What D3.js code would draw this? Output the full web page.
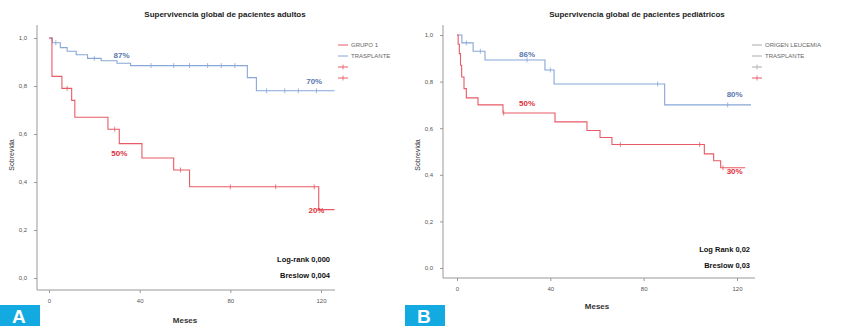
<!DOCTYPE html>
<html>
<head>
<meta charset="utf-8">
<script src="https://cdn.jsdelivr.net/npm/d3@7"></script>
<style>
  body { margin: 0; background: #fff; }
  svg { display: block; font-family: "Liberation Sans", Arial, sans-serif; }
</style>
</head>
<body>
<svg id="km" width="842" height="326"></svg>
<script>
// ---- data ----
const xTicks = [0, 40, 80, 120];
const yTicks = [0, 0.2, 0.4, 0.6, 0.8, 1.0];

// A: adultos
const adultBlueMonths = [0, 1.5, 5, 8, 12, 17, 23, 30, 36, 87.5, 91.5, 126];
const adultBlueSurv   = [1, 0.98, 0.96, 0.945, 0.93, 0.915, 0.905, 0.895, 0.885, 0.835, 0.78, 0.78];
const adultBlueCensor = [3, 20, 45, 55, 62, 70, 76, 82, 96, 104, 110, 118];
const adultRedMonths  = [0, 1.3, 5.7, 10, 11.4, 26, 31, 41, 55, 62, 119, 126];
const adultRedSurv    = [1, 0.84, 0.79, 0.74, 0.67, 0.62, 0.56, 0.50, 0.45, 0.38, 0.285, 0.285];
const adultRedCensor  = [8, 29, 58, 80, 100, 117];

// B: pediatricos
const pedBlueMonths = [0, 2.1, 6.9, 12, 37.7, 41.6, 89, 126];
const pedBlueSurv   = [1, 0.966, 0.93, 0.893, 0.85, 0.79, 0.70, 0.70];
const pedBlueCensor = [4, 10, 30, 40, 86, 116];
const pedRedMonths  = [0, 0.5, 1, 1.5, 2, 3, 4, 9, 19.7, 42, 55.7, 61.3, 66.4, 106, 110, 113, 123.5];
const pedRedSurv    = [1, 0.96, 0.92, 0.87, 0.82, 0.77, 0.73, 0.70, 0.665, 0.627, 0.59, 0.56, 0.53, 0.49, 0.46, 0.43, 0.43];
const pedRedCensor  = [20, 70, 104, 114];

const blue = "#88a6d8";
const red = "#e85a66";

const svg = d3.select("#km");

function drawPanel(p) {
  const g = svg.append("g");
  const x = d3.scaleLinear().domain([0, 120]).range(p.xRange);
  const y = d3.scaleLinear().domain([0, 1]).range(p.yRange);

  // title
  g.append("text")
    .attr("x", p.titleX).attr("y", 17)
    .attr("text-anchor", "middle")
    .style("font-size", "8px").style("font-weight", "bold").style("fill", "#222")
    .text(p.title);

  // axes lines
  g.append("line")
    .attr("x1", p.axisX).attr("x2", p.axisX)
    .attr("y1", 25).attr("y2", p.axisY)
    .attr("stroke", "#999").attr("stroke-width", 1);
  g.append("line")
    .attr("x1", p.axisX).attr("x2", p.axisEnd)
    .attr("y1", p.axisY).attr("y2", p.axisY)
    .attr("stroke", "#999").attr("stroke-width", 1);

  // y ticks
  const ya = g.append("g").attr("transform", `translate(${p.axisX},0)`)
    .call(d3.axisLeft(y).tickValues(yTicks).tickSize(3)
      .tickFormat(d => d3.format(".1f")(d).replace(".", ",")));
  ya.select(".domain").remove();
  ya.selectAll("line").attr("stroke", "#999");
  ya.selectAll("text").style("font-size", "6px").style("fill", "#555")
    .style("font-family", "Liberation Sans, Arial, sans-serif").attr("dx", "-4");

  // x ticks
  const xa = g.append("g").attr("transform", `translate(0,${p.axisY})`)
    .call(d3.axisBottom(x).tickValues(xTicks).tickSize(3));
  xa.select(".domain").remove();
  xa.selectAll("line").attr("stroke", "#999");
  xa.selectAll("text").style("font-size", "6px").style("fill", "#555")
    .style("font-family", "Liberation Sans, Arial, sans-serif").attr("dy", "1.2em");

  // axis titles
  g.append("text")
    .attr("x", p.xLabelX).attr("y", p.xLabelY)
    .attr("text-anchor", "middle")
    .style("font-size", "8px").style("font-weight", "bold").style("fill", "#333")
    .text("Meses");
  g.append("text")
    .attr("transform", `translate(${p.yLabelX},155) rotate(-90)`)
    .attr("text-anchor", "middle")
    .style("font-size", "7px").style("fill", "#333")
    .text("Sobrevida");

  // curves
  const line = d3.line().x(d => x(d[0])).y(d => y(d[1])).curve(d3.curveStepAfter);
  p.series.forEach(s => {
    const pts = d3.zip(s.months, s.surv);
    g.append("path").datum(pts)
      .attr("d", line)
      .attr("fill", "none").attr("stroke", s.color).attr("stroke-width", 1.1);

    // censor ticks
    const step = d3.scaleThreshold().domain(s.months.slice(1)).range(s.surv);
    g.selectAll(null).data(s.censor).join("line")
      .attr("x1", d => x(d)).attr("x2", d => x(d))
      .attr("y1", d => y(step(d)) - 2.5).attr("y2", d => y(step(d)) + 2.5)
      .attr("stroke", s.color).attr("stroke-width", 0.8);

    // percent labels
    s.labels.forEach(l => {
      g.append("text")
        .attr("x", x(l.m)).attr("y", y(l.v))
        .attr("text-anchor", "middle")
        .style("font-size", "8px").style("font-weight", "bold")
        .style("fill", s.color === red ? "#e0303c" : "#5a78b0")
        .text(l.t);
    });
  });

  // legend
  p.legend.forEach((d, i) => {
    const ly = 45 + i * 11;
    g.append("line")
      .attr("x1", p.legendX).attr("x2", p.legendX + 10)
      .attr("y1", ly).attr("y2", ly)
      .attr("stroke", d.color).attr("stroke-width", 1);
    if (d.censor) {
      g.append("line")
        .attr("x1", p.legendX + 5).attr("x2", p.legendX + 5)
        .attr("y1", ly - 2.5).attr("y2", ly + 2.5)
        .attr("stroke", d.color).attr("stroke-width", 0.8);
    }
    if (d.text) {
      g.append("text")
        .attr("x", p.legendX + 13).attr("y", ly + 2)
        .style("font-size", "6px").style("fill", "#666")
        .text(d.text);
    }
  });

  // stats
  p.stats.forEach((t, i) => {
    g.append("text")
      .attr("x", p.statsX).attr("y", p.statsY + i * 16)
      .attr("text-anchor", "end")
      .style("font-size", "7.5px").style("font-weight", "bold").style("fill", "#111")
      .text(t);
  });

  // panel letter
  g.append("rect")
    .attr("x", p.boxX).attr("y", 305).attr("width", 40).attr("height", 21)
    .attr("fill", "#13a9e1");
  g.append("text")
    .attr("x", p.boxX + 12).attr("y", 323)
    .style("font-size", "19px").style("font-weight", "bold").style("fill", "#fff")
    .text(p.letter);
}

drawPanel({
  title: "Supervivencia global de pacientes adultos",
  titleX: 225,
  xRange: [49, 321], yRange: [278, 38],
  axisX: 37, axisY: 290, axisEnd: 335,
  xLabelX: 185, xLabelY: 323, yLabelX: 14,
  legendX: 338,
  statsX: 330, statsY: 262,
  boxX: 0, letter: "A",
  series: [
    { months: adultBlueMonths, surv: adultBlueSurv, censor: adultBlueCensor, color: blue,
      labels: [{ m: 32, v: 0.915, t: "87%" }, { m: 117, v: 0.81, t: "70%" }] },
    { months: adultRedMonths, surv: adultRedSurv, censor: adultRedCensor, color: red,
      labels: [{ m: 31, v: 0.51, t: "50%" }, { m: 118, v: 0.27, t: "20%" }] }
  ],
  legend: [
    { color: red, text: "GRUPO 1" },
    { color: blue, text: "TRASPLANTE" },
    { color: red, censor: true },
    { color: red, censor: true }
  ],
  stats: ["Log-rank 0,000", "Breslow 0,004"]
});

drawPanel({
  title: "Supervivencia global de pacientes pediátricos",
  titleX: 637,
  xRange: [457, 737], yRange: [268, 35],
  axisX: 443, axisY: 278, axisEnd: 755,
  xLabelX: 597, xLabelY: 309, yLabelX: 420,
  legendX: 752,
  statsX: 750, statsY: 252,
  boxX: 405, letter: "B",
  series: [
    { months: pedBlueMonths, surv: pedBlueSurv, censor: pedBlueCensor, color: blue,
      labels: [{ m: 30, v: 0.905, t: "86%" }, { m: 119, v: 0.735, t: "80%" }] },
    { months: pedRedMonths, surv: pedRedSurv, censor: pedRedCensor, color: red,
      labels: [{ m: 30, v: 0.695, t: "50%" }, { m: 119, v: 0.405, t: "30%" }] }
  ],
  legend: [
    { color: "#aaa", text: "ORIGEN LEUCEMIA" },
    { color: "#aaa", text: "TRASPLANTE" },
    { color: "#aaa", censor: true },
    { color: red, censor: true }
  ],
  stats: ["Log Rank 0,02", "Breslow 0,03"]
});
</script>
</body>
</html>
